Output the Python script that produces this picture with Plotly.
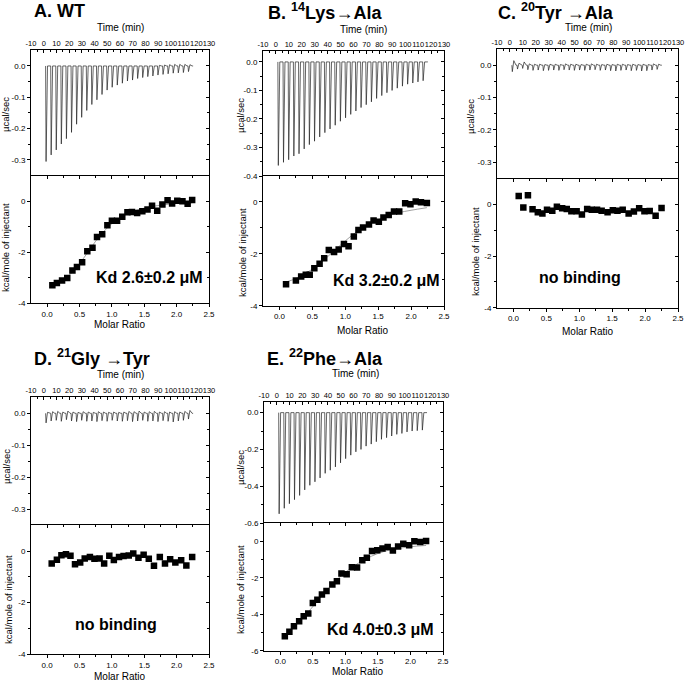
import plotly.graph_objects as go

W, H = 685, 681
FONT = "Liberation Sans"

# ---------------- data ----------------
INJ_TIME = [1.5, 5.5, 9.5, 13.5, 17.5, 21.5, 25.5, 29.5, 33.5, 37.5, 41.5, 45.5, 49.5, 53.5,
            57.5, 61.5, 65.5, 69.5, 73.5, 77.5, 81.5, 85.5, 89.5, 93.5, 97.5, 101.5, 105.5,
            109.5, 113.5]

A_PEAK = [-0.305, -0.284, -0.268, -0.249, -0.232, -0.212, -0.186, -0.164, -0.142, -0.123, -0.108,
          -0.091, -0.077, -0.068, -0.061, -0.055, -0.048, -0.045, -0.040, -0.037, -0.034, -0.032,
          -0.029, -0.027, -0.025, -0.023, -0.022, -0.021, -0.018]
A_OVER = [0, 0, 0, 0, 0, 0, 0, 0, 0, 0, 0, 0, 0, 0, 0, 0, 0, 0, 0, 0, 0, 0, 0.002, 0.003,
          0.004, 0.005, 0.005, 0.005, 0.004]
B_PEAK = [-0.363, -0.352, -0.343, -0.330, -0.322, -0.305, -0.290, -0.278, -0.263, -0.248, -0.235,
          -0.222, -0.208, -0.196, -0.184, -0.172, -0.160, -0.150, -0.140, -0.128, -0.118, -0.108,
          -0.100, -0.092, -0.085, -0.078, -0.074, -0.070, -0.066]
B_OVER = [0] * 29
C_PEAK = [-0.020, -0.012, -0.010, -0.014, -0.016, -0.015, -0.017, -0.016, -0.015, -0.016, -0.014,
          -0.015, -0.016, -0.015, -0.016, -0.015, -0.014, -0.016, -0.015, -0.017, -0.018, -0.016,
          -0.015, -0.017, -0.016, -0.018, -0.017, -0.015, -0.013]
C_OVER = [0.014, 0.006, 0.010, 0.004, 0.003, 0.003, 0.002, 0.003, 0.003, 0.002, 0.004, 0.003,
          0.003, 0.002, 0.003, 0.004, 0.003, 0.002, 0.003, 0.002, 0.003, 0.003, 0.002, 0.003,
          0.002, 0.003, 0.002, 0.004, 0.003]
D_PEAK = [-0.030, -0.024, -0.022, -0.025, -0.020, -0.024, -0.026, -0.022, -0.025, -0.024, -0.026,
          -0.023, -0.025, -0.022, -0.024, -0.025, -0.023, -0.026, -0.024, -0.022, -0.025, -0.024,
          -0.026, -0.023, -0.025, -0.027, -0.024, -0.022, -0.018]
D_OVER = [0.003, 0.005, 0.006, 0.004, 0.007, 0.004, 0.003, 0.005, 0.004, 0.003, 0.005, 0.004,
          0.003, 0.004, 0.003, 0.004, 0.006, 0.005, 0.007, 0.004, 0.005, 0.006, 0.004, 0.005,
          0.004, 0.005, 0.004, 0.006, 0.009]
E_PEAK = [-0.550, -0.520, -0.495, -0.473, -0.450, -0.420, -0.395, -0.376, -0.355, -0.330, -0.313,
          -0.295, -0.273, -0.250, -0.231, -0.213, -0.200, -0.182, -0.171, -0.158, -0.145, -0.136,
          -0.127, -0.118, -0.113, -0.105, -0.100, -0.098, -0.095]
E_OVER = [0] * 29

A_X = [0.08, 0.15, 0.23, 0.31, 0.39, 0.46, 0.54, 0.62, 0.70, 0.77, 0.85, 0.93, 1.00, 1.08, 1.16,
       1.24, 1.31, 1.39, 1.47, 1.55, 1.62, 1.70, 1.78, 1.86, 1.93, 2.01, 2.09, 2.17, 2.24]
A_Y = [-3.29, -3.20, -3.10, -3.01, -2.71, -2.58, -2.39, -1.96, -1.82, -1.40, -1.29, -0.94, -0.77,
       -0.77, -0.61, -0.43, -0.42, -0.46, -0.39, -0.33, -0.18, -0.38, -0.13, 0.04, -0.09, 0.02,
       0.00, -0.10, 0.05]
B_X = [0.10, 0.25, 0.33, 0.40, 0.46, 0.53, 0.61, 0.68, 0.75, 0.83, 0.90, 0.98, 1.05, 1.13, 1.20,
       1.27, 1.36, 1.43, 1.51, 1.58, 1.66, 1.74, 1.82, 1.91, 1.99, 2.07, 2.15, 2.24]
B_Y = [-3.17, -3.03, -2.87, -2.80, -2.80, -2.55, -2.38, -2.17, -1.85, -1.93, -1.83, -1.62, -1.71,
       -1.33, -1.08, -0.98, -0.87, -0.71, -0.76, -0.60, -0.50, -0.37, -0.37, -0.05, -0.09, 0.02,
       -0.01, -0.04]
C_X = [0.08, 0.15, 0.22, 0.29, 0.37, 0.44, 0.51, 0.59, 0.66, 0.74, 0.81, 0.88, 0.96, 1.04, 1.12,
       1.19, 1.27, 1.34, 1.43, 1.51, 1.58, 1.66, 1.75, 1.83, 1.91, 1.99, 2.07, 2.16, 2.25]
C_Y = [0.32, -0.12, 0.35, -0.19, -0.31, -0.35, -0.21, -0.25, -0.09, -0.15, -0.18, -0.27, -0.27,
       -0.39, -0.18, -0.21, -0.21, -0.25, -0.31, -0.23, -0.25, -0.21, -0.35, -0.28, -0.15, -0.27,
       -0.26, -0.44, -0.14]
D_X = [0.07, 0.15, 0.22, 0.29, 0.36, 0.43, 0.51, 0.58, 0.66, 0.73, 0.81, 0.88, 0.96, 1.03, 1.11,
       1.18, 1.26, 1.33, 1.41, 1.49, 1.57, 1.65, 1.74, 1.82, 1.90, 1.98, 2.07, 2.15, 2.24]
D_Y = [-0.48, -0.34, -0.16, -0.12, -0.18, -0.51, -0.45, -0.29, -0.23, -0.30, -0.29, -0.48, -0.18,
       -0.35, -0.23, -0.19, -0.17, -0.10, -0.26, -0.14, -0.30, -0.57, -0.23, -0.48, -0.32, -0.45,
       -0.36, -0.56, -0.23]
E_X = [0.07, 0.14, 0.21, 0.29, 0.36, 0.43, 0.50, 0.57, 0.64, 0.71, 0.80, 0.87, 0.94, 1.02, 1.10,
       1.18, 1.26, 1.33, 1.41, 1.49, 1.57, 1.65, 1.73, 1.81, 1.89, 1.98, 2.06, 2.15, 2.24]
E_Y = [-5.20, -4.96, -4.65, -4.38, -4.11, -3.96, -3.38, -3.20, -2.92, -2.72, -2.37, -2.19, -1.77,
       -1.81, -1.42, -1.44, -1.04, -0.91, -0.53, -0.49, -0.40, -0.31, -0.51, -0.29, -0.13, -0.22,
       0.00, -0.04, 0.02]

FIT_X = [0.07, 0.2, 0.4, 0.6, 0.8, 1.0, 1.2, 1.4, 1.6, 1.8, 2.0, 2.24]
A_FIT = [-3.33, -3.15, -2.75, -2.10, -1.40, -0.88, -0.54, -0.34, -0.22, -0.14, -0.09, -0.06]
B_FIT = [-3.10, -3.00, -2.75, -2.40, -1.95, -1.50, -1.10, -0.80, -0.58, -0.42, -0.32, -0.22]
E_FIT = [-5.20, -4.75, -4.00, -3.15, -2.35, -1.70, -1.20, -0.82, -0.55, -0.40, -0.30, -0.23]

TIME_TICKS = [-10, 0, 10, 20, 30, 40, 50, 60, 70, 80, 90, 100, 110, 120, 130]
TIME_LABELS = ["-10", "0", "10", "20", "30", "40", "50", "60", "70", "80", "90", "100", "110",
               "120", "130"]
MR_TICKS = [0.0, 0.5, 1.0, 1.5, 2.0, 2.5]
MR_LABELS = ["0.0", "0.5", "1.0", "1.5", "2.0", "2.5"]

TITLES = ["A. WT", "B. <sup>14</sup>Lys\u2192Ala", "C. <sup>20</sup>Tyr \u2192Ala",
          "D. <sup>21</sup>Gly \u2192Tyr", "E. <sup>22</sup>Phe\u2192Ala"]
NOTES = ["Kd 2.6\u00b10.2 \u03bcM", "Kd 3.2\u00b10.2 \u03bcM", "no binding", "no binding",
         "Kd 4.0\u00b10.3 \u03bcM"]

# ---------------- layout config ----------------
# x0, x1, top, split, bottom (pixels)
POS = [(31, 209, 50.3, 175.6, 303.4),
       (263, 444, 50.5, 176.0, 305.8),
       (497, 678, 49.0, 178.5, 307.7),
       (31, 209, 397.3, 525.3, 654.0),
       (264, 443, 401.6, 523.0, 650.8)]
TOP_RANGE = [[-0.35, 0.05], [-0.40, 0.04], [-0.35, 0.05], [-0.35, 0.05], [-0.6, 0.06]]
TOP_TICKS = [[0, -0.1, -0.2, -0.3], [0, -0.1, -0.2, -0.3, -0.4], [0, -0.1, -0.2, -0.3],
             [0, -0.1, -0.2, -0.3], [0, -0.2, -0.4, -0.6]]
TOP_MINOR = [[-0.05, -0.15, -0.25], [-0.05, -0.15, -0.25, -0.35], [-0.05, -0.15, -0.25],
             [-0.05, -0.15, -0.25], [-0.1, -0.3, -0.5]]
BOT_RANGE = [[-4, 1], [-4, 1], [-4, 1], [-4, 1], [-6, 1]]
BOT_TICKS = [[0, -2, -4], [0, -2, -4], [0, -2, -4], [0, -2, -4], [0, -2, -4, -6]]
BOT_MINOR = [[-1, -3], [-1, -3], [-1, -3], [-1, -3], [-1, -3, -5]]

TITLE_POS = [(33, 11), (267, 11), (497, 11), (33, 357), (266, 357)]
TIME_LAB_POS = [(120, 28), (363, 29), (588, 28), (120, 375), (355, 373)]
UCAL_POS = [(6, 115), (240, 116), (470, 117), (6, 467), (240, 468)]
KCAL_POS = [(6, 248), (242, 253), (475, 252), (8, 600), (240, 590)]
MOLAR_POS = [(120, 325), (363, 330), (588, 331), (120, 676), (358, 671)]
NOTE_POS = [(149, 277), (386, 280), (580, 277), (116, 624), (380, 629)]

PEAKS = [A_PEAK, B_PEAK, C_PEAK, D_PEAK, E_PEAK]
OVERS = [A_OVER, B_OVER, C_OVER, D_OVER, E_OVER]
ITC_X = [A_X, B_X, C_X, D_X, E_X]
ITC_Y = [A_Y, B_Y, C_Y, D_Y, E_Y]
FITS = [A_FIT, B_FIT, None, None, E_FIT]


def fmt1(v):
    return "0.0" if v == 0 else f"{v:.1f}"


def fmt0(v):
    return f"{v:d}"


def aname(kind, n):
    return f"{kind}axis" if n == 1 else f"{kind}axis{n}"


def aref(kind, n):
    return kind if n == 1 else f"{kind}{n}"


fig = go.Figure()
layout = {}
annotations = []
xi = [0]
yi = [0]


def nx():
    xi[0] += 1
    return xi[0]


def ny():
    yi[0] += 1
    return yi[0]


tickfont = dict(family=FONT, size=8, color="black")
common = dict(showgrid=False, zeroline=False, fixedrange=True, tickcolor="black",
              tickwidth=1, linecolor="black", linewidth=1, automargin=False)


def ann(text, x, y, size, bold=False, xanchor="center", angle=0):
    annotations.append(dict(text=f"<b>{text}</b>" if bold else text, x=x / W, y=1 - y / H,
                            xref="paper", yref="paper", xanchor=xanchor, yanchor="middle",
                            showarrow=False, textangle=angle, borderpad=0,
                            font=dict(family=FONT, size=size, color="black")))


for k in range(5):
    x0, x1, top, split, bot = POS[k]
    xdom = [x0 / W, x1 / W]
    tdom = [1 - split / H, 1 - top / H]
    bdom = [1 - bot / H, 1 - split / H]

    # ---- thermogram subplot ----
    xt, yt, ytr = nx(), ny(), ny()
    layout[aname("x", xt)] = dict(
        domain=xdom, range=[-10, 130], anchor=aref("y", yt), side="top",
        ticks="inside", ticklen=3, tickmode="array", tickvals=TIME_TICKS, ticktext=TIME_LABELS,
        tickangle=0, tickfont=dict(family=FONT, size=7.5, color="black"),
        minor=dict(tickmode="array", tickvals=[t + 5 for t in TIME_TICKS[:-1]], ticks="inside",
                   ticklen=2, tickcolor="black", showgrid=False),
        showline=True, mirror=False, **common)
    layout[aname("y", yt)] = dict(
        domain=tdom, range=TOP_RANGE[k], anchor=aref("x", xt), side="left",
        ticks="outside", ticklen=3, tickmode="array", tickvals=TOP_TICKS[k],
        ticktext=[fmt1(v) for v in TOP_TICKS[k]], tickfont=tickfont,
        minor=dict(tickmode="array", tickvals=TOP_MINOR[k], ticks="outside", ticklen=2,
                   tickcolor="black", showgrid=False),
        showline=True, mirror=True, **common)
    layout[aname("y", ytr)] = dict(
        overlaying=aref("y", yt), anchor=aref("x", xt), side="right", range=TOP_RANGE[k],
        ticks="inside", ticklen=3, tickmode="array", tickvals=TOP_TICKS[k], showticklabels=False,
        minor=dict(tickmode="array", tickvals=TOP_MINOR[k], ticks="inside", ticklen=2,
                   tickcolor="black", showgrid=False),
        showline=False, **common)

    xs, ys = [], []
    for t, p, o in zip(INJ_TIME, PEAKS[k], OVERS[k]):
        xs += [t, t + 0.35, t + 1.5, t + 3.2]
        ys += [0, p, o, 0]
    xs.append(INJ_TIME[-1] + 4.0)
    ys.append(0)
    fig.add_trace(go.Scatter(x=xs, y=ys, mode="lines", line=dict(color="#222", width=0.7),
                             xaxis=aref("x", xt), yaxis=aref("y", yt), showlegend=False,
                             hoverinfo="skip"))
    fig.add_trace(go.Scatter(x=[], y=[], xaxis=aref("x", xt), yaxis=aref("y", ytr),
                             showlegend=False, hoverinfo="skip"))

    # ---- binding isotherm subplot ----
    xb, xbt = nx(), nx()
    yb, ybr = ny(), ny()
    layout[aname("x", xb)] = dict(
        domain=xdom, range=[-0.25, 2.5], anchor=aref("y", yb), side="bottom",
        ticks="outside", ticklen=3, tickmode="array", tickvals=MR_TICKS, ticktext=MR_LABELS,
        tickfont=tickfont, tickangle=0,
        minor=dict(tickmode="array", tickvals=[0.25, 0.75, 1.25, 1.75, 2.25], ticks="outside",
                   ticklen=2, tickcolor="black", showgrid=False),
        showline=True, mirror=True, **common)
    layout[aname("x", xbt)] = dict(
        overlaying=aref("x", xb), anchor=aref("y", yb), side="top", range=[-0.25, 2.5],
        ticks="inside", ticklen=3, tickmode="array", tickvals=MR_TICKS, showticklabels=False,
        minor=dict(tickmode="array", tickvals=[0.25, 0.75, 1.25, 1.75, 2.25], ticks="inside",
                   ticklen=2, tickcolor="black", showgrid=False),
        showline=False, **common)
    layout[aname("y", yb)] = dict(
        domain=bdom, range=BOT_RANGE[k], anchor=aref("x", xb), side="left",
        ticks="outside", ticklen=3, tickmode="array", tickvals=BOT_TICKS[k],
        ticktext=[fmt0(v) for v in BOT_TICKS[k]], tickfont=tickfont,
        minor=dict(tickmode="array", tickvals=BOT_MINOR[k], ticks="outside", ticklen=2,
                   tickcolor="black", showgrid=False),
        showline=True, mirror=True, **common)
    layout[aname("y", ybr)] = dict(
        overlaying=aref("y", yb), anchor=aref("x", xb), side="right", range=BOT_RANGE[k],
        ticks="inside", ticklen=3, tickmode="array", tickvals=BOT_TICKS[k], showticklabels=False,
        minor=dict(tickmode="array", tickvals=BOT_MINOR[k], ticks="inside", ticklen=2,
                   tickcolor="black", showgrid=False),
        showline=False, **common)

    if FITS[k] is not None:
        fig.add_trace(go.Scatter(x=FIT_X, y=FITS[k], mode="lines", line_shape="spline",
                                 line=dict(color="#8a8a8a", width=0.8),
                                 xaxis=aref("x", xb), yaxis=aref("y", yb), showlegend=False,
                                 hoverinfo="skip"))
    fig.add_trace(go.Scatter(x=ITC_X[k], y=ITC_Y[k], mode="markers",
                             marker=dict(symbol="square", size=6.5, color="black",
                                         line=dict(width=0)),
                             xaxis=aref("x", xb), yaxis=aref("y", yb), showlegend=False,
                             hoverinfo="skip"))
    fig.add_trace(go.Scatter(x=[], y=[], xaxis=aref("x", xbt), yaxis=aref("y", yb),
                             showlegend=False, hoverinfo="skip"))
    fig.add_trace(go.Scatter(x=[], y=[], xaxis=aref("x", xb), yaxis=aref("y", ybr),
                             showlegend=False, hoverinfo="skip"))

    # ---- texts ----
    ann(TITLES[k], *TITLE_POS[k], size=18, bold=True, xanchor="left")
    ann("Time (min)", *TIME_LAB_POS[k], size=10)
    ann("\u00b5cal/sec", *UCAL_POS[k], size=9.5, angle=-90)
    ann("kcal/mole of injectant", *KCAL_POS[k], size=9.5, angle=-90)
    ann("Molar Ratio", *MOLAR_POS[k], size=10)
    ann(NOTES[k], *NOTE_POS[k], size=16, bold=True)

fig.update_layout(**layout)
fig.update_layout(template="none", width=W, height=H, autosize=False,
                  margin=dict(l=0, r=0, t=0, b=0, pad=0),
                  paper_bgcolor="white", plot_bgcolor="white", annotations=annotations,
                  font=dict(family=FONT, color="black"), showlegend=False)
fig.write_html("out.html", config={"displayModeBar": False, "staticPlot": True},
               post_script="document.body.style.margin='0';"
                           "document.body.style.overflow='hidden';")
